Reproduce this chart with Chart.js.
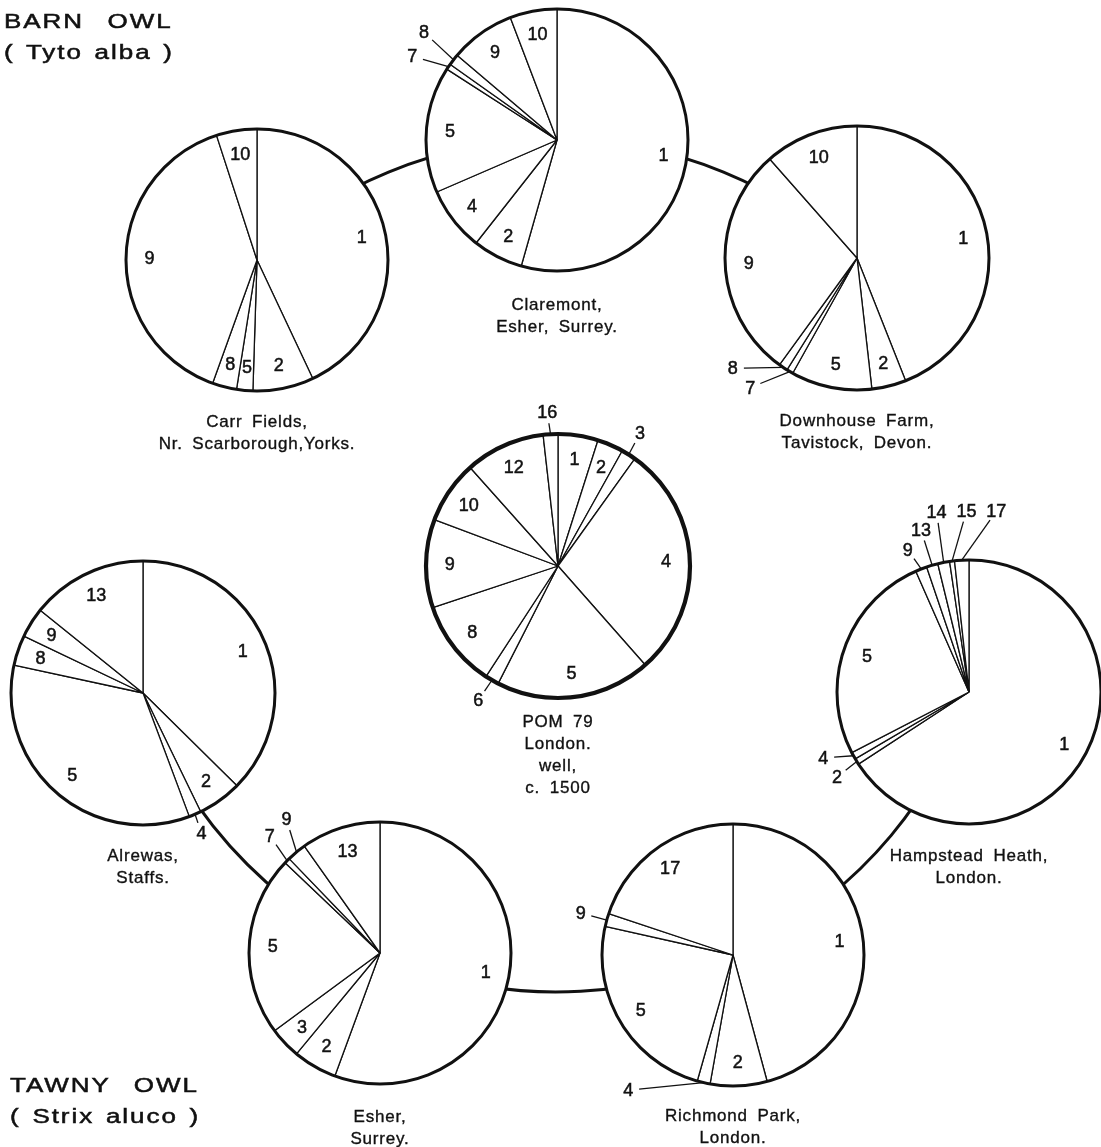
<!DOCTYPE html>
<html>
<head>
<meta charset="utf-8">
<script src="https://cdn.jsdelivr.net/npm/chart.js@4.4.0/dist/chart.umd.min.js"></script>
<style>
  html, body { margin: 0; padding: 0; background: #fff; }
  #page { position: relative; width: 1101px; height: 1147px; overflow: hidden; background: #fff;
          font-family: "Liberation Sans", Arial, sans-serif; color: #111; }
  #page canvas { position: absolute; }
  .cap { position: absolute; width: 320px; text-align: center; font-size: 17px; line-height: 22px;
         letter-spacing: 0.8px; word-spacing: 4px; white-space: nowrap; -webkit-text-stroke: 0.35px #111; }
  .title { position: absolute; font-size: 20px; line-height: 31px; white-space: nowrap;
           transform: scaleX(1.3); transform-origin: left center; letter-spacing: 1.5px;
           -webkit-text-stroke: 0.5px #111; }
  .title .l1 { word-spacing: 11px; }
  .title .l2 { word-spacing: 2px; }
</style>
</head>
<body>
<div id="page">
  <canvas id="links" width="1101" height="1147" style="left:0;top:0"></canvas>
  <div class="title" style="left:4px;top:6px"><div class="l1">BARN OWL</div><div class="l2">( Tyto alba )</div></div>
  <div class="title" style="left:10px;top:1070px"><div class="l1">TAWNY OWL</div><div class="l2">( Strix aluco )</div></div>
</div>
<script>
  // Prey categories and their share (%) in each pellet sample, clockwise from 12 o'clock
  const carrCats = ['1', '2', '5', '8', '9', '10'];
  const carrVals = [43, 7.5, 2, 3, 39.5, 5];

  const claremontCats = ['1', '2', '4', '5', '7', '8', '9', '10'];
  const claremontVals = [54.4, 6.2, 7.9, 15.6, 0.7, 1.4, 8, 5.8];

  const downhouseCats = ['1', '2', '5', '7', '8', '9', '10'];
  const downhouseVals = [44, 4.2, 9.9, 0.8, 1.1, 28.5, 11.5];

  const pomCats = ['1', '2', '3', '4', '5', '6', '8', '9', '10', '12', '16'];
  const pomVals = [4.9, 3.2, 1.8, 28.6, 19, 1.7, 10.7, 10.8, 7.7, 9.8, 1.8];

  const alrewasCats = ['1', '2', '4', '5', '8', '9', '13'];
  const alrewasVals = [37.4, 5.4, 1.5, 34.1, 3.7, 3.7, 14.2];

  const hampsteadCats = ['1', '2', '4', '5', '9', '13', '14', '15', '17'];
  const hampsteadVals = [65.8, 0.75, 0.85, 26, 1.4, 1.4, 1.45, 0.6, 1.75];

  const esherCats = ['1', '2', '3', '5', '7', '9', '13'];
  const esherVals = [55.6, 5.4, 3.9, 22.2, 0.7, 2.4, 9.8];

  const richmondCats = ['1', '2', '4', '5', '9', '17'];
  const richmondVals = [45.8, 7, 1.6, 24.1, 1.6, 19.9];

  // where each pie sits on the page, and where the labels of thin slices go (angle from top, distance)
  const pies = [
    { cats: carrCats, vals: carrVals, cx: 257, cy: 260, r: 131, rim: 3,
      caption: ['Carr Fields,', 'Nr. Scarborough,Yorks.'], capY: 422, outside: {} },
    { cats: claremontCats, vals: claremontVals, cx: 557, cy: 140, r: 131, rim: 3,
      caption: ['Claremont,', 'Esher, Surrey.'], capY: 305, outside: { '7': [300, 167], '8': [309, 171] } },
    { cats: downhouseCats, vals: downhouseVals, cx: 857, cy: 258, r: 132, rim: 3,
      caption: ['Downhouse Farm,', 'Tavistock, Devon.'], capY: 421, outside: { '7': [219.5, 168], '8': [228.4, 166] } },
    { cats: pomCats, vals: pomVals, cx: 558, cy: 566, r: 132, rim: 4.2,
      caption: ['POM 79', 'London.', 'well,', 'c. 1500'], capY: 722,
      outside: { '16': [356, 154], '3': [31.7, 156], '6': [210.7, 156] } },
    { cats: alrewasCats, vals: alrewasVals, cx: 143, cy: 693, r: 132, rim: 3,
      caption: ['Alrewas,', 'Staffs.'], capY: 856, outside: { '4': [157.4, 152] } },
    { cats: hampsteadCats, vals: hampsteadVals, cx: 969, cy: 692, r: 132, rim: 3,
      caption: ['Hampstead Heath,', 'London.'], capY: 856,
      outside: { '2': [237.2, 157], '4': [245.7, 160], '9': [336.7, 155], '13': [343.5, 169],
                 '14': [349.8, 183], '15': [359.2, 181], '17': [8.6, 183] } },
    { cats: esherCats, vals: esherVals, cx: 380, cy: 953, r: 131, rim: 3,
      caption: ['Esher,', 'Surrey.'], capY: 1117, outside: { '7': [316.8, 161], '9': [325, 163] } },
    { cats: richmondCats, vals: richmondVals, cx: 733, cy: 955, r: 131, rim: 3,
      caption: ['Richmond Park,', 'London.'], capY: 1116, outside: { '9': [285.4, 158], '4': [217.8, 171] } }
  ];

  const FONT = '18px "Liberation Sans", Arial, sans-serif';
  const INK = '#111';

  // the two big rings that join the samples of each species
  function drawLinks() {
    const ctx = document.getElementById('links').getContext('2d');
    ctx.strokeStyle = INK;
    ctx.lineWidth = 3;
    const ang = (p, cx, cy) => Math.atan2(p.cy - cy, p.cx - cx);
    // barn owl: Carr Fields -> Claremont -> Downhouse
    ctx.beginPath();
    ctx.arc(556, 580, 441, ang(pies[0], 556, 580), ang(pies[2], 556, 580));
    ctx.stroke();
    // tawny owl: Hampstead -> Richmond -> Esher -> Alrewas
    ctx.beginPath();
    ctx.arc(556, 555, 437, ang(pies[5], 556, 555), ang(pies[4], 556, 555));
    ctx.stroke();
  }

  function makeDecor(p) {
    return {
      id: 'pieDecor',
      afterDatasetsDraw(chart) {
        const ctx = chart.ctx;
        const arcs = chart.getDatasetMeta(0).data;
        const { x, y, outerRadius } = arcs[0];
        ctx.save();
        ctx.strokeStyle = INK;
        ctx.lineWidth = p.rim;
        ctx.beginPath();
        ctx.arc(x, y, outerRadius, 0, Math.PI * 2);
        ctx.stroke();

        ctx.font = FONT;
        ctx.fillStyle = INK;
        ctx.textAlign = 'center';
        ctx.textBaseline = 'middle';
        const label = (txt, tx, ty) => {
          ctx.lineWidth = 0.5;
          ctx.strokeText(txt, tx, ty);
          ctx.fillText(txt, tx, ty);
        };
        arcs.forEach((a, i) => {
          const cat = p.cats[i];
          const mid = (a.startAngle + a.endAngle) / 2;
          const out = p.outside[cat];
          if (!out) {
            const rr = outerRadius * 0.82;
            label(cat, x + Math.cos(mid) * rr, y + Math.sin(mid) * rr + 1);
            return;
          }
          // label outside with a leader to the slice edge
          const la = (out[0] - 90) * Math.PI / 180;
          const lx = x + Math.cos(la) * out[1];
          const ly = y + Math.sin(la) * out[1];
          const ex = x + Math.cos(mid) * outerRadius;
          const ey = y + Math.sin(mid) * outerRadius;
          const d = Math.hypot(ex - lx, ey - ly);
          ctx.lineWidth = 1.3;
          ctx.beginPath();
          ctx.moveTo(lx + (ex - lx) / d * 11, ly + (ey - ly) / d * 11);
          ctx.lineTo(ex, ey);
          ctx.stroke();
          label(cat, lx, ly + 1);
        });
        ctx.restore();
      }
    };
  }

  function drawPie(p) {
    const size = 440;
    const page = document.getElementById('page');
    const cv = document.createElement('canvas');
    cv.width = size; cv.height = size;
    cv.style.width = size + 'px'; cv.style.height = size + 'px';
    cv.style.left = (p.cx - size / 2) + 'px';
    cv.style.top = (p.cy - size / 2) + 'px';
    page.appendChild(cv);

    new Chart(cv.getContext('2d'), {
      type: 'pie',
      data: {
        labels: p.cats,
        datasets: [{
          data: p.vals,
          backgroundColor: '#fff',
          borderColor: INK,
          borderWidth: 1.3,
          hoverOffset: 0,
          offset: 0
        }]
      },
      options: {
        responsive: false,
        animation: false,
        events: [],
        radius: p.r,
        layout: { padding: 0 },
        plugins: { legend: { display: false }, tooltip: { enabled: false } }
      },
      plugins: [makeDecor(p)]
    });

    p.caption.forEach((line, k) => {
      const div = document.createElement('div');
      div.className = 'cap';
      div.textContent = line;
      div.style.left = (p.cx - 160) + 'px';
      div.style.top = (p.capY - 11 + k * 22) + 'px';
      page.appendChild(div);
    });
  }

  drawLinks();
  pies.forEach(drawPie);
</script>
</body>
</html>
